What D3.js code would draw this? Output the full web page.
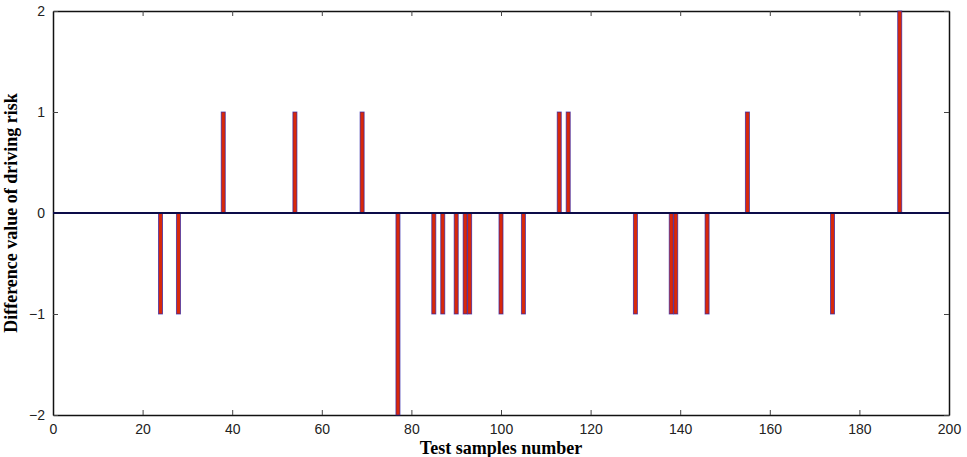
<!DOCTYPE html>
<html>
<head>
<meta charset="utf-8">
<script src="https://cdn.jsdelivr.net/npm/d3@7"></script>
<style>
  body { margin: 0; background: #fff; }
  .tick text { font-family: "Liberation Sans", Arial, sans-serif; font-size: 14px; fill: #222; }
</style>
</head>
<body>
<script>
// samples where the difference is not zero
var sampleIds = [24, 28, 38, 54, 69, 77, 85, 87, 90, 92, 93, 100, 105, 113, 115, 130, 138, 139, 146, 155, 174, 189];
var diffValues = [-1, -1, 1, 1, 1, -2, -1, -1, -1, -1, -1, -1, -1, 1, 1, -1, -1, -1, -1, 1, -1, 2];
var xTicks = [0, 20, 40, 60, 80, 100, 120, 140, 160, 180, 200];
var yTicks = [-2, -1, 0, 1, 2];

var margin = { top: 11, right: 18, bottom: 42, left: 53 };
var container_width = 967;
var container_height = 457;
var width = container_width - (margin.left + margin.right)
var height = container_height - (margin.top + margin.bottom)

var svg = d3.select("body").append("svg")
    .attr("width", container_width)
    .attr("height", container_height)
  .append("g")
    .attr("transform", "translate(" + margin.left + "," + margin.top + ")");

var x = d3.scaleLinear().domain([0, 200]).range([0, width]);
var y = d3.scaleLinear().domain([-2, 2]).range([height, 0]);

var fmt = function(d) { return d < 0 ? "\u2212" + Math.abs(d) : d; };

// axes with ticks pointing inside the box
svg.append("g")
  .attr("transform", "translate(0," + height + ")")
  .call(d3.axisBottom(x).tickValues(xTicks).tickSizeInner(-5).tickSizeOuter(0).tickPadding(9).tickFormat(fmt));
svg.append("g")
  .call(d3.axisTop(x).tickValues(xTicks).tickSizeInner(-5).tickSizeOuter(0).tickFormat(""));
svg.append("g")
  .call(d3.axisLeft(y).tickValues(yTicks).tickSizeInner(-5).tickSizeOuter(0).tickPadding(8).tickFormat(fmt));
svg.append("g")
  .attr("transform", "translate(" + width + ",0)")
  .call(d3.axisRight(y).tickValues(yTicks).tickSizeInner(-5).tickSizeOuter(0).tickFormat(""));

svg.selectAll(".domain").attr("stroke", "#111").attr("stroke-width", 1.5);
svg.selectAll(".tick line").attr("stroke", "#444");

// bars
var barW = x(0.9) - x(0);
svg.append("g")
  .selectAll("rect")
  .data(sampleIds)
  .enter()
  .append("rect")
  .attr("x", function(d) { return x(d) - barW / 2; })
  .attr("y", function(d, i) { return y(Math.max(0, diffValues[i])); })
  .attr("width", barW)
  .attr("height", function(d, i) { return Math.abs(y(diffValues[i]) - y(0)); })
  .attr("fill", "#d8280a")
  .attr("stroke", "#2a22a8")
  .attr("stroke-opacity", 0.75)
  .attr("stroke-width", 0.9);

// zero baseline
svg.append("line")
  .attr("x1", x(0)).attr("x2", x(200))
  .attr("y1", y(0)).attr("y2", y(0))
  .attr("stroke", "#0c0c48")
  .attr("stroke-width", 2);

// axis labels
svg.append("text")
  .attr("x", width / 2)
  .attr("y", height + 39)
  .attr("text-anchor", "middle")
  .style("font-family", "'Liberation Serif', 'Times New Roman', serif")
  .style("font-weight", "bold")
  .style("font-size", "18px")
  .text("Test samples number");

svg.append("text")
  .attr("transform", "translate(-36," + y(0) + ") rotate(-90)")
  .attr("text-anchor", "middle")
  .style("font-family", "'Liberation Serif', 'Times New Roman', serif")
  .style("font-weight", "bold")
  .style("font-size", "18px")
  .text("Difference value of driving risk");
</script>
</body>
</html>
